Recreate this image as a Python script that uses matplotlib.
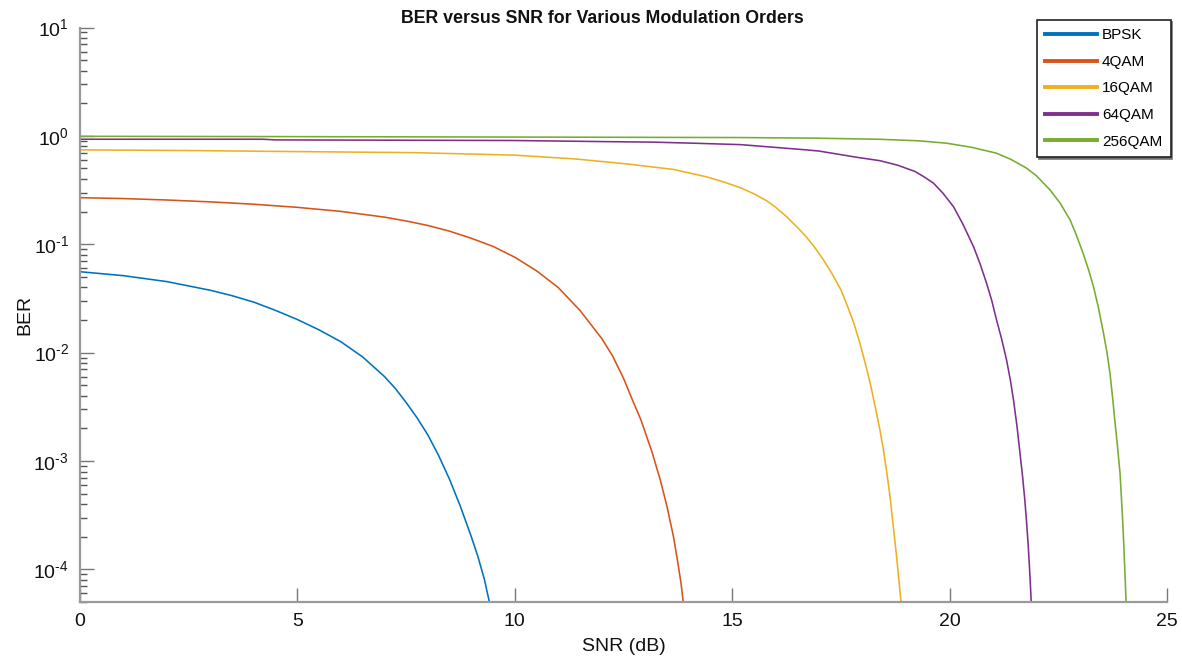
import matplotlib
matplotlib.use("Agg")
import matplotlib.pyplot as plt
from matplotlib.lines import Line2D
from matplotlib.ticker import FuncFormatter
import numpy as np

plt.rcParams['font.family'] = ['Liberation Sans', 'DejaVu Sans']
plt.rcParams['mathtext.fontset'] = 'custom'
plt.rcParams['mathtext.rm'] = 'Liberation Sans'
plt.rcParams['mathtext.it'] = 'Liberation Sans:italic'
plt.rcParams['mathtext.bf'] = 'Liberation Sans:bold'

# Measured bit error rates per modulation order (SNR in dB)
labels = ['BPSK', '4QAM', '16QAM', '64QAM', '256QAM']
colors = ['#0072BD', '#D95319', '#EDB120', '#7E2F8E', '#77AC30']

snr_bpsk = [0, 1, 2, 3, 3.5, 4, 4.5, 5, 5.5, 6, 6.5, 7, 7.25, 7.5, 7.75, 8,
            8.25, 8.5, 8.75, 9, 9.15, 9.3, 9.42]
ber_bpsk = [0.0558, 0.0513, 0.0452, 0.0376, 0.0335, 0.0292, 0.0245, 0.0202,
            0.0162, 0.0126, 0.00912, 0.00603, 0.00468, 0.00347, 0.00251, 0.00174,
            0.00112, 6.76e-4, 3.80e-4, 2.0e-4, 1.32e-4, 8.1e-5, 4.9e-5]

snr_4qam = [0, 1, 2, 3, 4, 5, 6, 7, 7.5, 8, 8.5, 9, 9.5, 10, 10.5, 11, 11.5,
            12, 12.25, 12.5, 12.7, 12.9, 13.15, 13.35, 13.5, 13.65, 13.75, 13.82,
            13.88]
ber_4qam = [0.269, 0.264, 0.256, 0.246, 0.234, 0.219, 0.201, 0.178, 0.164, 0.149,
            0.132, 0.1135, 0.0955, 0.0759, 0.0569, 0.0398, 0.0245, 0.0135,
            0.0093, 0.0058, 0.0037, 0.0024, 0.00123, 6.6e-4, 3.8e-4, 2.0e-4,
            1.15e-4, 7.6e-5, 4.8e-5]

snr_16qam = [0, 2.4, 5.0, 7.7, 10.0, 11.4, 12.6, 13.65, 14.4, 14.8, 15.2, 15.5,
             15.8, 16.0, 16.25, 16.5, 16.7, 16.9, 17.1, 17.3, 17.5, 17.65, 17.8,
             17.95, 18.1, 18.2, 18.32, 18.4, 18.48, 18.56, 18.63, 18.69, 18.74,
             18.78, 18.82, 18.85, 18.89]
ber_16qam = [0.743, 0.733, 0.716, 0.700, 0.664, 0.612, 0.550, 0.490, 0.420,
             0.376, 0.331, 0.292, 0.251, 0.219, 0.180, 0.143, 0.1175, 0.0933,
             0.0716, 0.0531, 0.0380, 0.0269, 0.0186, 0.0117, 0.00692, 0.00468,
             0.00275, 0.00191, 0.00126, 7.6e-4, 4.7e-4, 2.8e-4, 1.86e-4, 1.32e-4,
             9.1e-5, 6.8e-5, 4.7e-5]

snr_64qam = [0, 4.2, 4.5, 10.0, 12.1, 13.2, 14.1, 15.2, 16.7, 17.0, 17.86, 18.4,
             18.8, 19.2, 19.4, 19.63, 19.85, 20.09, 20.3, 20.55, 20.7, 20.85,
             20.97, 21.08, 21.2, 21.31, 21.4, 21.47, 21.55, 21.62, 21.68, 21.73,
             21.77, 21.81, 21.84, 21.88]
ber_64qam = [0.931, 0.931, 0.918, 0.906, 0.885, 0.875, 0.856, 0.830, 0.743,
             0.724, 0.635, 0.590, 0.537, 0.470, 0.422, 0.366, 0.295, 0.222,
             0.155, 0.0951, 0.0661, 0.0437, 0.0302, 0.0200, 0.0132, 0.00855,
             0.00550, 0.00365, 0.00209, 0.00117, 7.08e-4, 4.37e-4, 2.75e-4,
             1.62e-4, 1.0e-4, 4.8e-5]

snr_256qam = [0, 4.5, 10.0, 15.2, 16.9, 18.4, 19.3, 19.93, 20.5, 21.08, 21.4,
              21.77, 22.0, 22.31, 22.55, 22.77, 22.9, 23.07, 23.2, 23.31, 23.42,
              23.54, 23.62, 23.69, 23.75, 23.80, 23.86, 23.92, 23.95, 23.98, 24.0,
              24.02, 24.04, 24.06]
ber_256qam = [0.991, 0.985, 0.975, 0.965, 0.953, 0.930, 0.900, 0.856, 0.785,
              0.692, 0.610, 0.504, 0.427, 0.317, 0.237, 0.168, 0.126, 0.0826,
              0.0575, 0.0405, 0.0263, 0.0151, 0.0100, 0.0064, 0.0038, 0.00237,
              0.00138, 7.7e-4, 4.68e-4, 2.85e-4, 1.91e-4, 1.22e-4, 7.9e-5, 4.8e-5]

snr_series = [snr_bpsk, snr_4qam, snr_16qam, snr_64qam, snr_256qam]
ber_series = [ber_bpsk, ber_4qam, ber_16qam, ber_64qam, ber_256qam]

x_ticks = [0, 5, 10, 15, 20, 25]

fig = plt.figure(figsize=(11.82, 6.56), dpi=100)
ax = fig.add_axes([80 / 1182, 1 - 602 / 656, (1167 - 80) / 1182, (602 - 27.5) / 656])

for snr, ber, c in zip(snr_series, ber_series, colors):
    ax.semilogy(snr, ber, color=c, lw=1.15, solid_joinstyle='round',
                solid_capstyle='butt')

ax.set_xlim(0, 25)
ax.set_ylim(5e-5, 10)
ax.set_xticks(x_ticks)
ax.set_xticklabels([str(t) for t in x_ticks])


def decade_label(v, pos):
    e = int(round(np.log10(v)))
    if e < 0:
        return r'$10^{\text{-}%d}$' % (-e)
    return r'$10^{%d}$' % e


ax.yaxis.set_major_formatter(FuncFormatter(decade_label))

spine_col = '#9a9a9a'
for side in ['top', 'right']:
    ax.spines[side].set_visible(False)
for side in ['left', 'bottom']:
    ax.spines[side].set_color(spine_col)
    ax.spines[side].set_linewidth(1.6)

ax.tick_params(axis='both', which='major', direction='in', length=10, width=1,
               color='#777777', labelsize=14, labelcolor='#111111')
ax.tick_params(axis='y', which='minor', direction='in', length=5, width=1,
               color='#555555')
ax.tick_params(axis='x', pad=8)
ax.tick_params(axis='y', pad=8)

ax.set_title('BER versus SNR for Various Modulation Orders', fontsize=12.8,
             fontweight='bold', pad=3, color='#111111', x=(602.5 - 80) / 1087)
ax.set_xlabel('SNR (dB)', fontsize=14, labelpad=6, color='#111111')
ax.set_ylabel('BER', fontsize=14, labelpad=0, color='#111111')

handles = [Line2D([0], [0], color=c, lw=2.8) for c in colors]
leg = fig.legend(handles, labels, loc='upper left',
                 bbox_to_anchor=(1037 / 1182, 1 - 20 / 656),
                 fontsize=11, frameon=True, fancybox=False,
                 handlelength=3.4, handletextpad=0.3, labelspacing=0.82,
                 borderpad=0.55, borderaxespad=0,
                 shadow={'color': '0.45', 'alpha': 1, 'ox': 1.2, 'oy': -1.2})
leg.get_frame().set_edgecolor('#222222')
leg.get_frame().set_linewidth(1.2)

fig.savefig('out.png', dpi=100, facecolor='white')
